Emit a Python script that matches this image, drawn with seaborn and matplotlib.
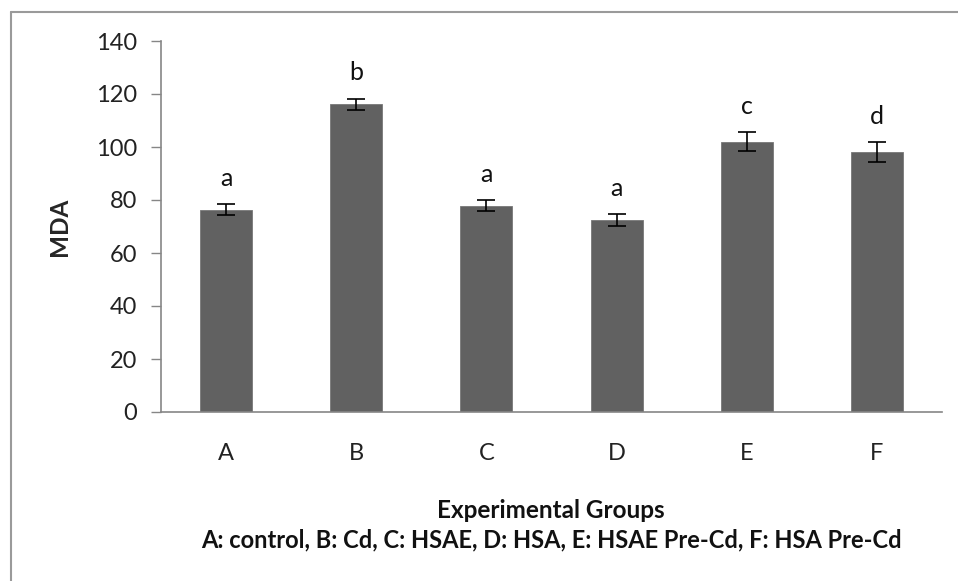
import matplotlib
matplotlib.use("Agg")
import matplotlib.pyplot as plt
import seaborn as sns
import pandas as pd
import numpy as np
from matplotlib.lines import Line2D

groups = ["A", "B", "C", "D", "E", "F"]
mda = [76.3, 116.1, 77.9, 72.4, 102.0, 98.0]
err = [2.1, 2.2, 2.0, 2.3, 3.6, 3.7]
letters = ["a", "b", "a", "a", "c", "d"]
y_ticks = [0, 20, 40, 60, 80, 100, 120, 140]

sns.set_theme(style="white")
plt.rcParams["font.family"] = ["Lato", "DejaVu Sans"]

df = pd.DataFrame({"group": groups, "MDA": mda})

fig = plt.figure(figsize=(9.58, 5.81), dpi=100)
ax = fig.add_axes([161/958, 1-412/581, (942-161)/958, (412-41)/581])

sns.barplot(data=df, x="group", y="MDA", color="#616161", saturation=1,
            width=0.4, errorbar=None, ax=ax, edgecolor="#777777", linewidth=0.6)
ax.errorbar(np.arange(len(groups)), mda, yerr=err, fmt="none", ecolor="black",
            elinewidth=1.2, capsize=6.5, capthick=1.2)

for i, (v, e, l) in enumerate(zip(mda, err, letters)):
    ax.annotate(l, (i, v + e), xytext=(0, 13), textcoords="offset points",
                ha="center", va="baseline", fontsize=18, color="#111111")

ax.set_ylim(0, 140)
ax.set_xlim(-0.5, len(groups) - 0.5)
ax.set_yticks(y_ticks)
ax.tick_params(axis="y", which="major", direction="out", length=7, width=1,
               color="#868686", labelsize=17, pad=10, left=True, labelcolor="#222222")
ax.tick_params(axis="x", length=0, labelsize=17, pad=22, labelcolor="#222222")
for s in ["top", "right"]:
    ax.spines[s].set_visible(False)
for s in ["left", "bottom"]:
    ax.spines[s].set_color("#868686")
    ax.spines[s].set_linewidth(1.2)

ax.set_xlabel("")
ax.set_ylabel("MDA", fontsize=17.5, fontweight="bold", labelpad=18)

fig.text(551/958, 1-510/581, "Experimental Groups", ha="center", va="center",
         fontsize=17.5, fontweight="bold", color="#111111")
fig.text(551/958, 1-540/581, "A: control, B: Cd, C: HSAE, D: HSA, E: HSAE Pre-Cd, F: HSA Pre-Cd",
         ha="center", va="center", fontsize=17, fontweight="bold", color="#111111")

fig.add_artist(Line2D([10.5/958, 10.5/958], [0, 1-11.5/581], transform=fig.transFigure,
                      color="#9a9a9a", linewidth=1.5))
fig.add_artist(Line2D([10.5/958, 1], [1-11.5/581, 1-11.5/581], transform=fig.transFigure,
                      color="#9a9a9a", linewidth=1.5))

fig.savefig("out.png", dpi=100)
